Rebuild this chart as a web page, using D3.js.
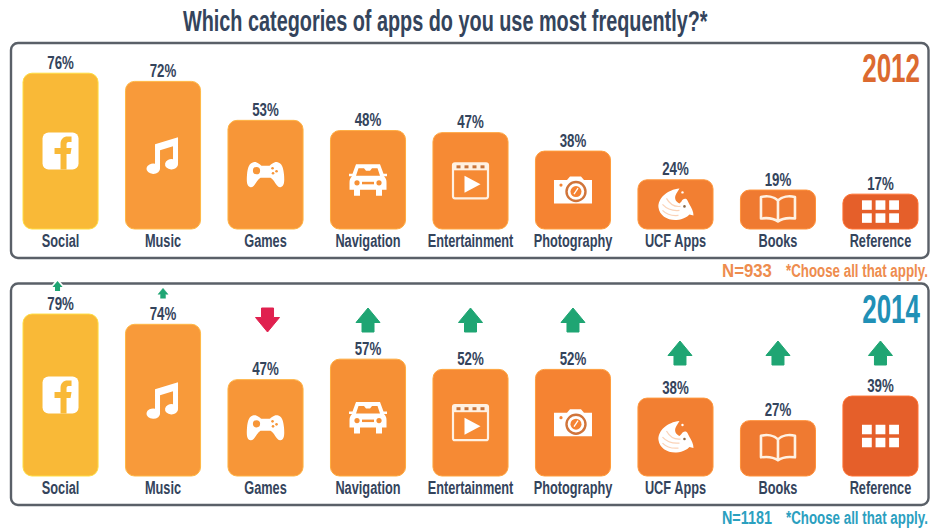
<!DOCTYPE html>
<html>
<head>
<meta charset="utf-8">
<title>App categories used most frequently</title>
<script src="https://cdn.jsdelivr.net/npm/d3@7/dist/d3.min.js"></script>
<style>
  html, body { margin: 0; padding: 0; background: #fff; }
  svg { display: block; }
  text { font-family: "Liberation Sans", Arimo, sans-serif; font-weight: 700; }
</style>
</head>
<body>
<svg id="chart" width="930" height="529"></svg>
<script>
// Survey data
const categories = ["Social", "Music", "Games", "Navigation", "Entertainment", "Photography", "UCF Apps", "Books", "Reference"];
const values2012 = [76, 72, 53, 48, 47, 38, 24, 19, 17];
const values2014 = [79, 74, 47, 57, 52, 52, 38, 27, 39];
const barColors = ["#f9b937", "#f89a3a", "#f79638", "#f69035", "#f68a34", "#f58332", "#f27f32", "#ef7a31", "#e55f2a"];
const iconNames = ["facebook", "music", "gamepad", "car", "film", "camera", "pegasus", "book", "grid"];
const titleText = "Which categories of apps do you use most frequently?*";
const footNote = "*Choose all that apply.";

const ink = "#34445c";
const svg = d3.select("#chart");

const x = d3.scaleBand().domain(categories).range([23, 918]).paddingInner(0.2676).paddingOuter(0);
const pxPerPercent = 2.05;
const heightOf = d3.scaleLinear().domain([0, 100]).range([0, 100 * pxPerPercent]);

// Places a text and squeezes it horizontally, giving a condensed display face.
function placeSqueezed(node, px, py, ratio) {
  d3.select(node).attr("x", 0).attr("y", 0).attr("dy", null)
    .attr("transform", `translate(${px},${py}) scale(${ratio},1)`);
}
// Same, with the final width given in pixels.
function placeToWidth(node, px, py, width) {
  placeSqueezed(node, px, py, width / node.getComputedTextLength());
}

// Icon glyphs are drawn around a local origin in white, with cut-outs in the bar colour.
const icons = {
  facebook(g, c) {
    g.append("rect").attr("x", -18).attr("y", -18.5).attr("width", 36).attr("height", 37).attr("rx", 6).attr("fill", "#fff");
    g.append("path").attr("fill", c)
      .attr("d", "M0,18.5 V3 H-6 V-3 H0 V-7 C0,-12 3,-14.5 7,-14.5 H11 V-9 H8 C6.5,-9 6,-8 6,-6.5 V-3 H11 L10,3 H6 V18.5 Z");
  },
  music(g) {
    g.append("path").attr("fill", "#fff")
      .attr("d", "M-8,-11 L15,-18 V9 A6.5,5.2 0 1 1 10,4 V-9 L-3,-5 V13 A6.8,5.2 0 1 1 -8,8.5 Z");
  },
  gamepad(g, c) {
    g.append("path").attr("fill", "#fff")
      .attr("d", "M-12,-12.5 C-8,-13 -6,-10 -4,-9 H4 C6,-10 8,-13 12,-12.5 C16,-12 18,-7 18.5,0 C19,6 19,12 15,12.5 C11,13 9,5 5,3 H-5 C-9,5 -11,13 -15,12.5 C-19,12 -19,6 -18.5,0 C-18,-7 -16,-12 -12,-12.5 Z");
    g.append("circle").attr("cx", -9).attr("cy", -4).attr("r", 3.6).attr("fill", c);
    [[7, -6.5], [11, -3.5], [7.5, -1.5]].forEach(([a, b]) =>
      g.append("circle").attr("cx", a).attr("cy", b).attr("r", 1.3).attr("fill", c));
  },
  car(g, c) {
    g.append("path").attr("fill", "#fff")
      .attr("d", "M-12,-15.5 H12 L15.5,-6 H19 V-3.5 H16 C18,-1.5 18.5,0 18.5,3 V10 H14 V16 H8 V10 H-8 V16 H-14 V10 H-18.5 V3 C-18.5,0 -18,-1.5 -16,-3.5 H-19 V-6 H-15.5 Z");
    g.append("path").attr("fill", c).attr("d", "M-9.5,-11.5 H-4 L-2,-9 H2 L4,-11.5 H9.5 L12,-4 H-12 Z");
    g.append("circle").attr("cx", -11).attr("cy", 3).attr("r", 2.6).attr("fill", c);
    g.append("circle").attr("cx", 11).attr("cy", 3).attr("r", 2.6).attr("fill", c);
    g.append("rect").attr("x", -6).attr("y", 2).attr("width", 12).attr("height", 2.5).attr("fill", c);
  },
  film(g) {
    const pale = "#fff1e2";
    g.append("rect").attr("x", -17.5).attr("y", -17.5).attr("width", 35).attr("height", 35).attr("rx", 2)
      .attr("fill", "none").attr("stroke", pale).attr("stroke-width", 2.2);
    g.append("rect").attr("x", -17.5).attr("y", -17.5).attr("width", 35).attr("height", 7).attr("fill", pale);
    g.append("path").attr("fill", "#fff").attr("d", "M-6,-5 L10,3.5 L-6,12 Z");
    [-12, -4, 4, 12].forEach(a =>
      g.append("rect").attr("x", a - 2).attr("y", -15.5).attr("width", 4).attr("height", 3).attr("fill", "#c9743a"));
  },
  camera(g, c) {
    g.append("path").attr("fill", "#fff")
      .attr("d", "M-19,-10 H-6 L-3,-13.5 H8 L11,-10 H19 V13.5 H-19 Z");
    g.append("circle").attr("cx", 3).attr("cy", 1.5).attr("r", 9.5).attr("fill", "#fff").attr("stroke", "#d0743a").attr("stroke-width", 2.4);
    g.append("circle").attr("cx", 3).attr("cy", 1.5).attr("r", 5.5).attr("fill", c);
    g.append("path").attr("d", "M1,4 L5,-2").attr("stroke", "#fff").attr("stroke-width", 1.3);
    g.append("circle").attr("cx", -12).attr("cy", -5).attr("r", 1.6).attr("fill", c);
  },
  pegasus(g, c) {
    g.append("path").attr("fill", "#fff")
      .attr("d", "M4,-16 C-8,-15 -18,-6 -17,3 C-16,11 -8,16 1,15.5 C8,15 12,12 14,10 L18,11 C18,7 16,3 14,0 L12,-4 C10,-7 7,-5 6,-3 L4,-1 C0,-3 -1,-6 0,-9 C1,-12 3,-14 4,-16 Z");
    [[-13, 6, 3, 11], [-13, 0, 4, 6], [-9, -6, 5, 2]].forEach(([a, b, e, f]) =>
      g.append("path").attr("d", `M${a},${b} Q${(a + e) / 2 - 2},${f + 1} ${e},${f}`)
        .attr("fill", "none").attr("stroke", c).attr("stroke-opacity", 0.35).attr("stroke-width", 1.2));
    g.append("circle").attr("cx", 9).attr("cy", 2).attr("r", 1.3).attr("fill", "#8a6a4a");
    g.append("circle").attr("cx", 7).attr("cy", -12).attr("r", 1.2).attr("fill", "#fff");
  },
  book(g) {
    g.append("path").attr("fill", "none").attr("stroke", "#fff1e2").attr("stroke-width", 2.6).attr("stroke-linejoin", "round")
      .attr("d", "M0,-9 C-4,-13 -11,-14 -17,-12.5 V9 C-10,8 -4,9 0,12 C4,9 10,8 17,9 V-12.5 C11,-14 4,-13 0,-9 Z M0,-9 V12");
  },
  grid(g) {
    [-13.6, 0, 13.6].forEach(a => [-6.5, 6.5].forEach(b =>
      g.append("rect").attr("x", a - 4.9).attr("y", b - 4.75).attr("width", 9.8).attr("height", 9.5).attr("fill", "#fff")));
  }
};

function drawPanel(cfg) {
  const panel = svg.append("g");
  panel.append("rect")
    .attr("x", 11).attr("y", cfg.top).attr("width", 917.5).attr("height", cfg.bottom - cfg.top).attr("rx", 7)
    .attr("fill", "#fff").attr("stroke", "#5a6068").attr("stroke-width", 2.4);

  const rows = categories.map((name, i) => ({ name, value: cfg.values[i], color: barColors[i], icon: iconNames[i] }));

  panel.selectAll("rect.bar").data(rows).join("rect")
    .attr("class", "bar")
    .attr("x", d => x(d.name))
    .attr("y", d => cfg.baseline - heightOf(d.value))
    .attr("width", x.bandwidth())
    .attr("height", d => heightOf(d.value))
    .attr("rx", 9)
    .attr("fill", d => d.color)
    .attr("stroke", d => d3.color(d.color).brighter(0.5))
    .attr("stroke-width", 1);

  panel.selectAll("text.value").data(rows).join("text")
    .attr("class", "value")
    .attr("text-anchor", "middle").attr("font-size", 19).attr("fill", ink)
    .text(d => d.value + "%")
    .each(function (d) {
      placeSqueezed(this, x(d.name) + x.bandwidth() / 2, cfg.baseline - heightOf(d.value) - 4.5, 0.7);
    });

  panel.selectAll("g.icon").data(rows).join("g")
    .attr("class", "icon")
    .attr("transform", d => `translate(${x(d.name) + x.bandwidth() / 2},${cfg.baseline - heightOf(d.value) / 2})`)
    .each(function (d) { icons[d.icon](d3.select(this), d.color); });

  const axis = panel.append("g")
    .attr("transform", `translate(0,${cfg.baseline})`)
    .call(d3.axisBottom(x).tickSize(0).tickPadding(3));
  axis.select(".domain").remove();
  axis.selectAll("text")
    .attr("font-size", 18.5).attr("fill", ink)
    .style("font-family", '"Liberation Sans", sans-serif').style("font-weight", 700)
    .each(function () { placeSqueezed(this, 0, 18, 0.69); });

  panel.append("text")
    .attr("text-anchor", "end").attr("font-size", 40).attr("fill", cfg.accent)
    .text(cfg.year)
    .each(function () { placeSqueezed(this, 920, cfg.top + 39, 0.65); });

  panel.append("text")
    .attr("font-size", 18.5).attr("fill", cfg.noteColor)
    .text(cfg.sample)
    .each(function () { placeToWidth(this, 722, cfg.noteY, 50); });
  panel.append("text")
    .attr("font-size", 18.5).attr("fill", cfg.noteColor)
    .text(footNote)
    .each(function () { placeToWidth(this, 786, cfg.noteY, 142); });
}

svg.append("text")
  .attr("font-size", 29).attr("fill", ink)
  .text(titleText)
  .each(function () { placeToWidth(this, 183, 31, 525); });

const panel2012 = { year: "2012", values: values2012, top: 43, bottom: 258, baseline: 229, accent: "#dc6a30", noteColor: "#ee8c4e", sample: "N=933", noteY: 277 };
const panel2014 = { year: "2014", values: values2014, top: 283.5, bottom: 505, baseline: 476, accent: "#2190b6", noteColor: "#2ba0bf", sample: "N=1181", noteY: 524 };
drawPanel(panel2012);
drawPanel(panel2014);

// Change markers between the two surveys
const arrowUp = "#1fa573", arrowDown = "#e0214f";
const changes = categories.map((name, i) => ({ name, change: values2014[i] - values2012[i] }));
const arrowPath = "M0,-12 L12,2.5 H6 V12 H-6 V2.5 H-12 Z";
const arrowNudge = { Social: -3, Games: 2, "UCF Apps": 4.5 };

function arrowCentre(d) {
  const barTop = panel2014.baseline - heightOf(values2014[categories.indexOf(d.name)]);
  if (Math.abs(d.change) < 5) return barTop - (d.change > 2 ? 28 : 31);
  return barTop > 380 ? 353 : 320;
}

// The smallest rise sits across the panel border, so it keeps a white halo.
svg.selectAll("path.arrow").data(changes).join("path")
  .attr("class", "arrow")
  .attr("transform", d => {
    const s = Math.abs(d.change) < 5 ? 0.42 : 1;
    const flip = d.change < 0 ? -1 : 1;
    return `translate(${x(d.name) + x.bandwidth() / 2 + (arrowNudge[d.name] || 0)},${arrowCentre(d)}) scale(${s},${s * flip})`;
  })
  .attr("d", arrowPath)
  .attr("fill", d => d.change < 0 ? arrowDown : arrowUp)
  .attr("stroke", d => d.name === "Social" ? "#fff" : (d.change < 0 ? arrowDown : arrowUp))
  .attr("stroke-width", d => d.name === "Social" ? 8 : 1)
  .attr("stroke-linejoin", "round")
  .attr("paint-order", "stroke");
</script>
</body>
</html>
